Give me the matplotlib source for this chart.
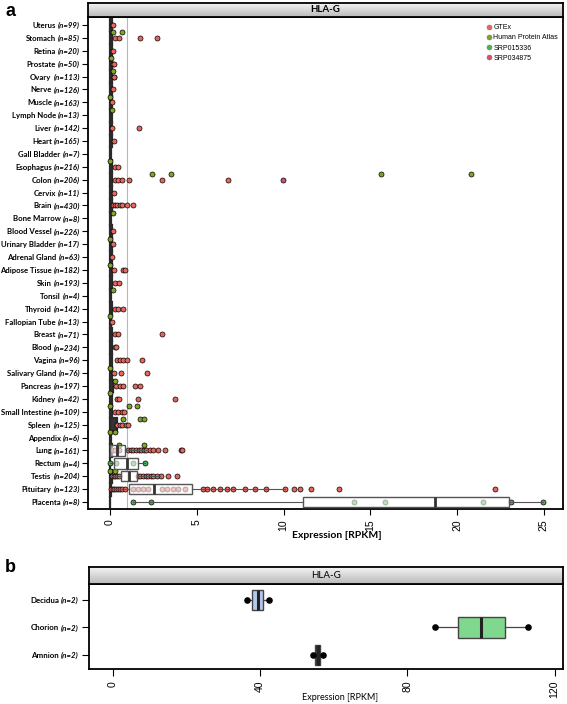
import matplotlib
matplotlib.use("Agg")
import numpy as np
from matplotlib import pyplot as plt
from matplotlib.colors import LinearSegmentedColormap
from matplotlib.lines import Line2D

# ---- panel a data ----
tissues = ["Uterus", "Stomach", "Retina", "Prostate", "Ovary", "Nerve", "Muscle",
           "Lymph Node", "Liver", "Heart", "Gall Bladder", "Esophagus", "Colon",
           "Cervix", "Brain", "Bone Marrow", "Blood Vessel", "Urinary Bladder",
           "Adrenal Gland", "Adipose Tissue", "Skin", "Tonsil", "Thyroid",
           "Fallopian Tube", "Breast", "Blood", "Vagina", "Salivary Gland",
           "Pancreas", "Kidney", "Small Intestine", "Spleen", "Appendix", "Lung",
           "Rectum", "Testis", "Pituitary", "Placenta"]
n_samples = [99, 85, 20, 50, 113, 126, 163, 13, 142, 165, 7, 216, 206, 11, 430, 8,
             226, 17, 63, 182, 193, 4, 142, 13, 71, 234, 96, 76, 197, 42, 109, 125,
             6, 161, 4, 204, 123, 8]
# upper end of the dense cluster of near-zero samples
cluster_hi = [0.12, 0.12, 0.1, 0.12, 0.12, 0.12, 0.12, 0.1, 0.12, 0.12, 0.08, 0.12,
              0.14, 0.1, 0.14, 0.08, 0.12, 0.1, 0.12, 0.12, 0.12, 0.06, 0.12, 0.08,
              0.12, 0.14, 0.14, 0.12, 0.18, 0.12, 0.14, 0.38, 0.06, 0.1, 0.0, 0.1,
              0.08, 0.0]

gtex_pts = {
    "Uterus": [0.17], "Stomach": [0.3, 0.5, 1.72, 2.72], "Retina": [0.15],
    "Prostate": [0.17, 0.22], "Ovary": [0.2, 0.25], "Nerve": [0.15], "Muscle": [0.12],
    "Liver": [0.12, 1.65], "Heart": [0.22], "Esophagus": [0.28, 0.48],
    "Colon": [0.29, 0.45, 0.67, 1.12, 3.02, 6.77], "Cervix": [0.2],
    "Brain": [0.19, 0.3, 0.42, 0.55, 0.71, 0.96, 1.31], "Blood Vessel": [0.15],
    "Urinary Bladder": [0.18], "Adrenal Gland": [0.14], "Adipose Tissue": [0.2, 0.73, 0.87],
    "Skin": [0.3, 0.54], "Thyroid": [0.3, 0.45, 0.77], "Fallopian Tube": [0.12],
    "Breast": [0.3, 0.45, 3.02], "Blood": [0.3, 0.35],
    "Vagina": [0.4, 0.55, 0.75, 0.96, 1.83], "Salivary Gland": [0.2, 0.63, 2.12],
    "Pancreas": [0.35, 0.55, 0.77, 1.44, 1.73], "Kidney": [0.38, 0.5, 1.63, 3.72],
    "Small Intestine": [0.29, 0.48, 0.67, 0.81], "Spleen": [0.42, 0.6, 0.71, 0.9, 1.04],
    "Lung": [0.1, 0.3, 0.5, 1.04, 1.2, 1.35, 1.5, 1.65, 1.8, 1.95, 2.1, 2.3, 2.5,
             2.77, 3.19, 4.08, 4.15],
    "Testis": [0.1, 0.2, 0.3, 0.4, 0.5, 1.62, 1.75, 1.9, 2.05, 2.2, 2.35, 2.5, 2.7,
               2.96, 3.35, 3.88],
    "Pituitary": [0.05, 0.15, 0.25, 0.35, 0.45, 0.55, 0.7, 0.85, 1.3, 1.6, 1.9, 2.2,
                  3.0, 3.3, 3.6, 3.9, 4.3, 5.38, 5.58, 5.96, 6.35, 6.73, 7.11, 7.79,
                  8.37, 8.98, 10.06, 10.58, 10.92, 11.6, 13.17, 22.17],
}
hpa_pts = {
    "Stomach": [0.17, 0.67], "Prostate": [0.04], "Ovary": [0.15], "Muscle": [0.02],
    "Lymph Node": [0.1], "Esophagus": [0.0], "Colon": [2.44, 3.54, 15.6, 20.8],
    "Bone Marrow": [0.15], "Urinary Bladder": [0.0], "Adipose Tissue": [0.0],
    "Tonsil": [0.15], "Fallopian Tube": [0.0], "Salivary Gland": [0.0],
    "Pancreas": [0.3], "Kidney": [0.0], "Small Intestine": [0.0, 1.1, 1.58],
    "Spleen": [0.77, 1.73, 1.98], "Appendix": [0.0, 0.29], "Lung": [0.5, 1.96],
    "Testis": [0.0, 0.3],
}
srp015336_pts = {
    "Rectum": [0.0, 0.37, 1.33, 2.02],
    "Placenta": [1.3, 2.37, 14.04, 15.87, 21.5, 23.1, 24.97],
}
srp034875_pts = {"Colon": [9.95]}

box_tissues = ["Lung", "Rectum", "Testis", "Pituitary", "Placenta"]
box_lo = [0.0, 0.0, 0.0, 0.0, 1.3]
box_q1 = [0.0, 0.23, 0.62, 1.12, 11.1]
box_med = [0.38, 0.98, 1.07, 2.56, 18.7]
box_q3 = [0.86, 1.62, 1.55, 4.75, 23.0]
box_hi = [2.1, 2.02, 2.9, 10.06, 24.97]

# ---- panel b data ----
fetal_tissues = ["Decidua", "Chorion", "Amnion"]
fetal_n = [2, 2, 2]
fetal_values = [[36.4, 42.3], [87.5, 112.8], [54.3, 57.1]]
fetal_colors = ["#b4c9ec", "#7fd88d", "#333333"]

src_colors = {"GTEx": "#e5685e", "Human Protein Atlas": "#7ea52a",
              "SRP015336": "#4db352", "SRP034875": "#d4506e"}

W, H = 567, 704
LBL = "Lato"


def rect(x0, y0, x1, y1):
    return [x0 / W, 1 - y1 / H, (x1 - x0) / W, (y1 - y0) / H]


def strip(ax, title, weight):
    cmap = LinearSegmentedColormap.from_list("strip", ["#f4f4f4", "#b9b9b9"])
    ax.imshow(np.linspace(0, 1, 50).reshape(-1, 1), aspect="auto", cmap=cmap,
              extent=[0, 1, 0, 1])
    ax.set_xticks([])
    ax.set_yticks([])
    for s in ax.spines.values():
        s.set_linewidth(1.3)
    ax.text(0.5, 0.5, title, ha="center", va="center", fontsize=7,
            fontweight=weight, family=LBL)


def row_labels(ax, names, counts, size, gap):
    fig.canvas.draw()
    r = fig.canvas.get_renderer()
    for i, (name, n) in enumerate(zip(names, counts)):
        t = ax.text(-gap, i, f"(n={n})", transform=ax.get_yaxis_transform(),
                    ha="right", va="center_baseline", fontsize=size,
                    style="italic", fontweight="bold", family=LBL)
        bb = t.get_window_extent(renderer=r)
        x = ax.transAxes.inverted().transform((bb.x0 - size * 0.35, 0))[0]
        ax.text(x, i, name, transform=ax.get_yaxis_transform(), ha="right",
                va="center_baseline", fontsize=size, fontweight="bold", family=LBL)


fig = plt.figure(figsize=(W / 100, H / 100), dpi=100)

# ---------------- panel a ----------------
ax = fig.add_axes(rect(88, 17, 563, 509))
sa = fig.add_axes(rect(88, 3, 563, 17))
strip(sa, "HLA-G", "bold")

ypos = np.arange(len(tissues))
idx = {t: i for i, t in enumerate(tissues)}
ax.axvline(0, color="#b8b8b8", lw=0.8, zorder=1)
ax.axvline(1, color="#b8b8b8", lw=0.8, zorder=1)

ax.barh(ypos, cluster_hi, left=0, height=1.0, color="#343434",
        edgecolor="#2a2a2a", lw=1.6, zorder=2)

for src, pts, dy in [("GTEx", gtex_pts, 0.0), ("Human Protein Atlas", hpa_pts, -0.42),
                     ("SRP015336", srp015336_pts, 0.0), ("SRP034875", srp034875_pts, 0.0)]:
    for t, vals in pts.items():
        ax.scatter(vals, [idx[t] + dy] * len(vals), s=13, color=src_colors[src],
                   edgecolor="black", lw=0.5, zorder=3)

stats = [dict(whislo=a, q1=b, med=c, q3=d, whishi=e, fliers=[])
         for a, b, c, d, e in zip(box_lo, box_q1, box_med, box_q3, box_hi)]
ax.bxp(stats, positions=[idx[t] for t in box_tissues], vert=False, widths=0.8,
       patch_artist=True, showcaps=False, manage_ticks=False,
       boxprops=dict(facecolor=(1, 1, 1, 0.6), edgecolor="#555555", lw=1.0),
       whiskerprops=dict(color="#555555", lw=0.8),
       medianprops=dict(color="#333333", lw=2.0), zorder=4)

ax.set_xlim(-1.27, 26.1)
ax.set_ylim(37.54, -0.62)
ax.set_yticks(ypos)
ax.set_yticklabels([])
ax.set_xticks([0, 5, 10, 15, 20, 25])
ax.set_xticklabels(["0", "5", "10", "15", "20", "25"], rotation=90, fontsize=7.5,
                   family="Liberation Sans")
ax.tick_params(direction="out", length=4, width=0.8)
for s in ax.spines.values():
    s.set_linewidth(1.3)

handles = [Line2D([], [], ls="", marker="o", ms=3.6, mfc=c, mec="#777777", mew=0.4)
           for c in src_colors.values()]
leg = ax.legend(handles, list(src_colors.keys()), loc="upper right", fontsize=5,
                frameon=False, handletextpad=0.1, labelspacing=0.45,
                handlelength=1.0, borderaxespad=0.3, bbox_to_anchor=(1.0, 0.995))
for txt in leg.get_texts():
    txt.set_family("Liberation Sans")

# ---------------- panel b ----------------
bx = fig.add_axes(rect(89, 584, 563, 669))
sb = fig.add_axes(rect(89, 567, 563, 584))
strip(sb, "HLA-G", "normal")

bp = bx.boxplot(fetal_values, positions=range(len(fetal_tissues)), vert=False,
                widths=0.76, patch_artist=True, showcaps=False, showfliers=False,
                manage_ticks=False,
                whiskerprops=dict(color="#444444", lw=0.9),
                medianprops=dict(color="#222222", lw=2.2))
for patch, c in zip(bp["boxes"], fetal_colors):
    patch.set_facecolor(c)
    patch.set_edgecolor("#444444")
    patch.set_linewidth(1.0)
for i, vals in enumerate(fetal_values):
    bx.scatter(vals, [i] * len(vals), s=14, color="black", zorder=5)

bx.set_xlim(-6.5, 122.3)
bx.set_ylim(2.51, -0.58)
bx.set_yticks(range(len(fetal_tissues)))
bx.set_yticklabels([])
bx.set_xticks([0, 40, 80, 120])
bx.set_xticklabels(["0", "40", "80", "120"], rotation=90, fontsize=7.5,
                   family="Liberation Sans")
bx.tick_params(direction="out", length=5, width=0.8)
for s in bx.spines.values():
    s.set_linewidth(1.3)

row_labels(ax, tissues, n_samples, 5.6, 0.017)
row_labels(bx, fetal_tissues, fetal_n, 5.7, 0.022)

fig.text(337 / W, 1 - 535 / H, "Expression [RPKM]", ha="center", va="center",
         fontsize=7.5, fontweight="bold", family=LBL)
fig.text(340 / W, 1 - 698 / H, "Expression [RPKM]", ha="center", va="center",
         fontsize=6.5, family=LBL)
fig.text(5 / W, 1 - 11 / H, "a", fontsize=13, fontweight="bold", va="center",
         family="Liberation Sans")
fig.text(5 / W, 1 - 567 / H, "b", fontsize=13, fontweight="bold", va="center",
         family="Liberation Sans")

fig.savefig("out.png", dpi=100)
